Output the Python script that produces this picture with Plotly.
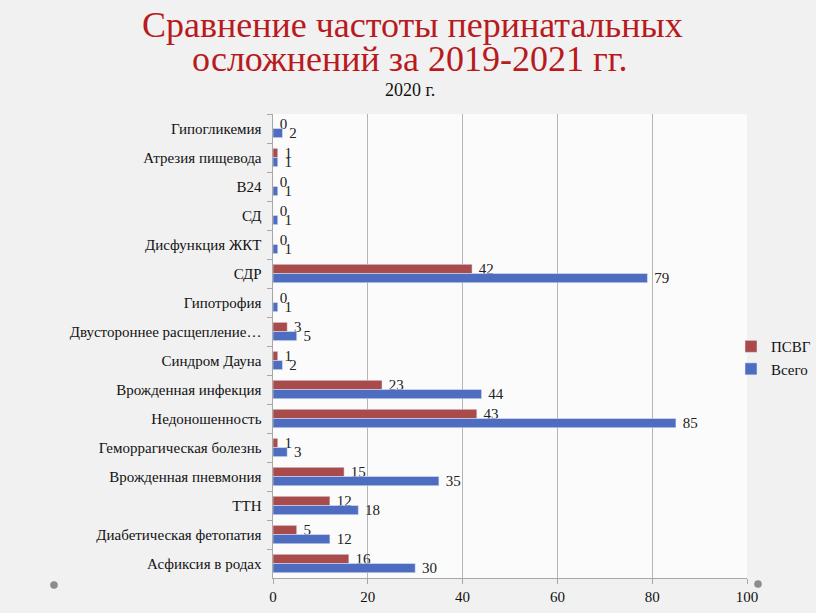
import plotly.graph_objects as go

categories = ["Гипогликемия", "Атрезия пищевода", "B24", "СД", "Дисфункция ЖКТ", "СДР",
              "Гипотрофия", "Двустороннее расщепление…", "Синдром Дауна", "Врожденная инфекция",
              "Недоношенность", "Геморрагическая болезнь", "Врожденная пневмония", "ТТН",
              "Диабетическая фетопатия", "Асфиксия в родах"]
psvg = [0, 1, 0, 0, 0, 42, 0, 3, 1, 23, 43, 1, 15, 12, 5, 16]
total = [2, 1, 1, 1, 1, 79, 1, 5, 2, 44, 85, 3, 35, 18, 12, 30]
x_ticks = [0, 20, 40, 60, 80, 100]

W, H = 816, 613
L, R, T, B = 273, 747, 114, 578

SERIF = "'Liberation Serif'"


def px_x(p):
    return (p - L) / (R - L)


def px_y(p):
    return (B - p) / (B - T)


fig = go.Figure()
fig.add_trace(go.Bar(
    y=categories, x=psvg, orientation="h", name="ПСВГ",
    marker=dict(color="#A94B4B"),
    texttemplate=" %{x}", textposition="outside", cliponaxis=False,
    textfont=dict(family=SERIF, size=15, color="#222222"),
))
fig.add_trace(go.Bar(
    y=categories, x=total, orientation="h", name="Всего",
    marker=dict(color="#4E6DC0"),
    texttemplate=" %{x}", textposition="outside", cliponaxis=False,
    textfont=dict(family=SERIF, size=15, color="#222222"),
))

shapes = []
for cx, cy in [(54, 585), (758, 584)]:
    shapes.append(dict(type="circle", xref="paper", yref="paper",
                       x0=px_x(cx - 3.8), x1=px_x(cx + 3.8), y0=px_y(cy + 3.8), y1=px_y(cy - 3.8),
                       fillcolor="#8c8c8c", line=dict(width=0)))

fig.update_layout(
    width=W, height=H,
    margin=dict(l=L, r=W - R, t=T, b=H - B, pad=0, autoexpand=False),
    paper_bgcolor="#f1f1f1",
    plot_bgcolor="#fbfbfb",
    barmode="group", bargap=0.37, bargroupgap=0,
    uniformtext=dict(minsize=15, mode="show"),
    showlegend=True,
    legend=dict(x=px_x(731), y=0.475, xanchor="left", yanchor="middle",
                bgcolor="rgba(0,0,0,0)", font=dict(family=SERIF, size=15, color="#111111"),
                itemwidth=30, tracegroupgap=0),
    shapes=shapes,
    annotations=[
        dict(text="Сравнение частоты перинатальных", xref="paper", yref="paper",
             x=px_x(412), y=px_y(25), xanchor="center", yanchor="middle",
             showarrow=False, font=dict(family=SERIF, size=36, color="#B81A1E")),
        dict(text="осложнений за 2019-2021 гг.", xref="paper", yref="paper",
             x=px_x(410), y=px_y(59), xanchor="center", yanchor="middle",
             showarrow=False, font=dict(family=SERIF, size=36, color="#B81A1E")),
        dict(text="2020 г.", xref="paper", yref="paper",
             x=px_x(410), y=px_y(90), xanchor="center", yanchor="middle",
             showarrow=False, font=dict(family=SERIF, size=18, color="#111111")),
    ],
)

fig.update_xaxes(range=[0, 100], tickvals=x_ticks, ticktext=[str(v) for v in x_ticks],
                 showgrid=True, gridcolor="#b5b5b5", gridwidth=1,
                 showline=True, linecolor="#a8a8a8", linewidth=1,
                 ticks="outside", ticklen=5, tickcolor="#a8a8a8",
                 zeroline=False, tickfont=dict(family=SERIF, size=15, color="#111111"))
fig.update_yaxes(autorange="reversed", showgrid=False,
                 showline=True, linecolor="#a8a8a8", linewidth=1,
                 ticks="outside", ticklen=5, tickcolor="#a8a8a8", tickson="boundaries",
                 ticksuffix="  ", tickfont=dict(family=SERIF, size=15, color="#111111"))

fig.write_html("out.html")
